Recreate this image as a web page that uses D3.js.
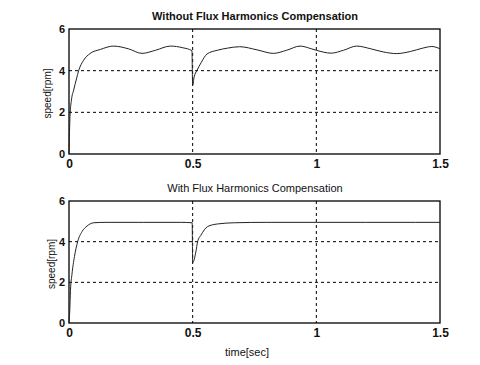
<!DOCTYPE html>
<html>
<head>
<meta charset="utf-8">
<script src="https://cdn.jsdelivr.net/npm/d3@7"></script>
<style>
  body { margin: 0; background: #fff; }
  text { font-family: "Liberation Sans", Arial, sans-serif; fill: #111; }
</style>
</head>
<body>
<div id="chart"></div>
<script>
// time axis ticks and speed ticks
const xTicks = [0, 0.5, 1, 1.5];
const yTicks = [0, 2, 4, 6];

// speed without flux harmonics compensation
const tWithout = [0, 0.004, 0.01, 0.019, 0.03, 0.039, 0.059, 0.086, 0.127, 0.18, 0.24, 0.295, 0.35, 0.41, 0.46, 0.497,
    0.5, 0.506, 0.517, 0.535, 0.558, 0.6, 0.64, 0.69, 0.76, 0.826, 0.88, 0.934, 0.98, 1.0, 1.06, 1.11, 1.163,
    1.22, 1.27, 1.325, 1.38, 1.43, 1.467, 1.5];
const sWithout = [0, 1.8, 2.6, 3.07, 3.6, 4.0, 4.5, 4.83, 5.02, 5.18, 5.05, 4.83, 4.98, 5.18, 5.1, 4.96,
    3.3, 3.7, 4.0, 4.4, 4.8, 4.98, 5.08, 5.15, 5.0, 4.83, 4.98, 5.18, 5.05, 4.98, 4.84, 4.98, 5.18,
    5.05, 4.9, 4.82, 4.92, 5.08, 5.16, 5.05];

// speed with flux harmonics compensation
const tWith = [0, 0.003, 0.006, 0.012, 0.022, 0.035, 0.053, 0.073, 0.1, 0.15, 0.3, 0.45, 0.498,
    0.5, 0.513, 0.52, 0.534, 0.56, 0.6, 0.67, 0.8, 1.0, 1.2, 1.4, 1.5];
const sWith = [0, 0.6, 1.6, 2.4, 3.26, 4.0, 4.5, 4.77, 4.93, 4.95, 4.95, 4.95, 4.93,
    2.97, 3.5, 4.0, 4.33, 4.74, 4.87, 4.93, 4.95, 4.95, 4.95, 4.95, 4.95];

const panels = [
  { title: "Without Flux Harmonics Compensation", t: tWithout, s: sWithout, top: 29, bottom: 154, bold: true, ylabX: 51 },
  { title: "With Flux Harmonics Compensation", t: tWith, s: sWith, top: 201, bottom: 323, bold: false, ylabX: 55 }
];

const width = 480, height = 365;
const left = 69, right = 440;

const svg = d3.select("#chart").append("svg")
    .attr("width", width)
    .attr("height", height);

const x = d3.scaleLinear().domain([0, 1.5]).range([left, right]);

panels.forEach(p => {
  const y = d3.scaleLinear().domain([0, 6]).range([p.bottom, p.top]);
  const g = svg.append("g");

  // dotted grid
  g.selectAll(".hgrid")
      .data(yTicks.filter(v => v > 0 && v < 6))
      .enter().append("line")
      .attr("x1", left).attr("x2", right)
      .attr("y1", d => y(d)).attr("y2", d => y(d))
      .attr("stroke", "#000").attr("stroke-width", 1)
      .attr("stroke-dasharray", "3,3");
  g.selectAll(".vgrid")
      .data(xTicks.filter(v => v > 0 && v < 1.5))
      .enter().append("line")
      .attr("x1", d => x(d)).attr("x2", d => x(d))
      .attr("y1", p.top).attr("y2", p.bottom)
      .attr("stroke", "#000").attr("stroke-width", 1)
      .attr("stroke-dasharray", "3,3");

  // axes
  const xAxis = d3.axisBottom(x).tickValues(xTicks).tickSize(0).tickPadding(5)
      .tickFormat(d3.format("~g"));
  g.append("g")
      .attr("transform", `translate(0,${p.bottom})`)
      .call(xAxis)
      .call(a => a.select(".domain").remove())
      .selectAll("text")
      .style("font-size", "12px").style("font-weight", "bold")
      .style("font-family", "Liberation Sans, Arial, sans-serif");

  const yAxis = d3.axisLeft(y).tickValues(yTicks).tickSize(0).tickPadding(4)
      .tickFormat(d3.format("d"));
  g.append("g")
      .attr("transform", `translate(${left},0)`)
      .call(yAxis)
      .call(a => a.select(".domain").remove())
      .selectAll("text")
      .style("font-size", "11px").style("font-weight", "bold")
      .style("font-family", "Liberation Sans, Arial, sans-serif");

  // frame
  g.append("rect")
      .attr("x", left).attr("y", p.top)
      .attr("width", right - left).attr("height", p.bottom - p.top)
      .attr("fill", "none").attr("stroke", "#000").attr("stroke-width", 1.3);

  // speed curve
  const line = d3.line()
      .x((d, i) => x(p.t[i]))
      .y(d => y(d))
      .curve(d3.curveMonotoneX);
  g.append("path")
      .datum(p.s)
      .attr("d", line)
      .attr("fill", "none")
      .attr("stroke", "#222")
      .attr("stroke-width", 1);

  // titles and labels
  svg.append("text")
      .attr("x", 255).attr("y", p.top - 9)
      .attr("text-anchor", "middle")
      .style("font-size", "11px")
      .style("font-weight", p.bold ? "bold" : "normal")
      .text(p.title);

  svg.append("text")
      .attr("transform", `translate(${p.ylabX},${(p.top + p.bottom) / 2 + 2}) rotate(-90)`)
      .attr("text-anchor", "middle")
      .style("font-size", "10px")
      .text("speed[rpm]");
});

svg.append("text")
    .attr("x", 247).attr("y", 356)
    .attr("text-anchor", "middle")
    .style("font-size", "11px")
    .text("time[sec]");
</script>
</body>
</html>
